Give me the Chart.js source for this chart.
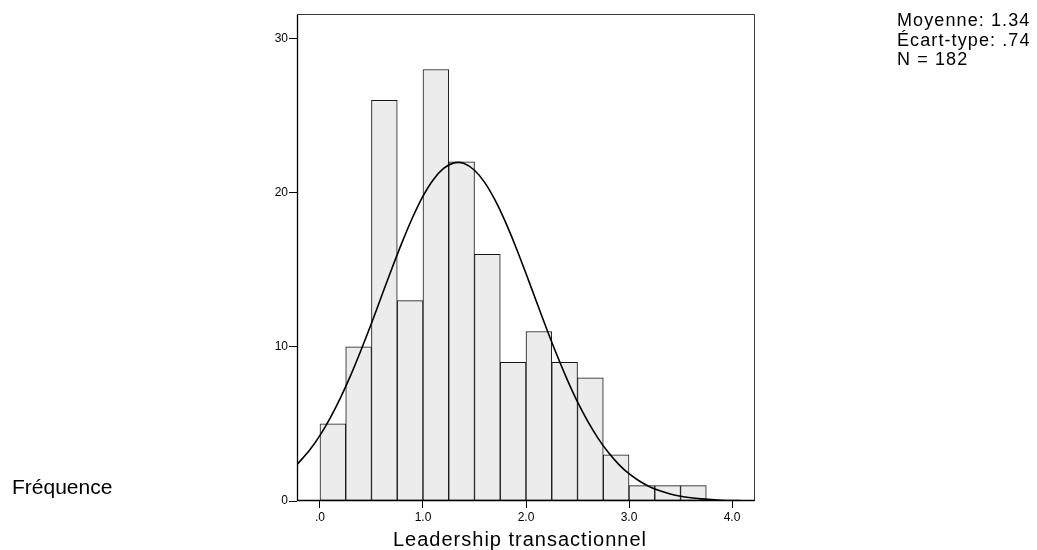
<!DOCTYPE html>
<html>
<head>
<meta charset="utf-8">
<script src="https://cdn.jsdelivr.net/npm/chart.js@4/dist/chart.umd.min.js"></script>
<style>
  html, body { margin: 0; padding: 0; background: #fff; }
  #wrap { position: relative; width: 1037px; height: 550px; overflow: hidden; }
  #c { position: absolute; left: 0; top: 0; }
  .txt { position: absolute; font-family: Arial, "Liberation Sans", sans-serif; color: #000; white-space: nowrap; }
  #stats { left: 897px; top: 11px; font-size: 18px; line-height: 19.7px; letter-spacing: 1.1px; }
  #ylab { left: 12px; top: 476px; font-size: 21px; line-height: 21px; }
</style>
</head>
<body>
<div id="wrap">
  <canvas id="c" width="1037" height="550"></canvas>
  <div class="txt" id="ylab">Fréquence</div>
  <div class="txt" id="stats">Moyenne: 1.34<br>Écart-type: .74<br>N = 182</div>
</div>
<script>
// ---- data ----
const binStarts = [0.00, 0.25, 0.50, 0.75, 1.00, 1.25, 1.50, 1.75, 2.00, 2.25, 2.50, 2.75, 3.00, 3.25, 3.50];
const binCounts = [5, 10, 26, 13, 28, 22, 16, 9, 11, 9, 8, 3, 1, 1, 1];
const binWidth = 0.25;

const curveX = [-0.23, -0.1, 0.0, 0.1, 0.2, 0.3, 0.4, 0.5, 0.6, 0.7, 0.8, 0.9, 1.0, 1.1, 1.2, 1.3, 1.4, 1.5,
                1.6, 1.7, 1.8, 1.9, 2.0, 2.1, 2.2, 2.3, 2.4, 2.5, 2.6, 2.7, 2.8, 2.9, 3.0, 3.1, 3.2, 3.3,
                3.4, 3.5, 3.6, 3.7, 3.8, 3.9, 4.0, 4.1, 4.23];
const curveY = [2.31, 3.31, 4.26, 5.40, 6.71, 8.18, 9.81, 11.53, 13.33, 15.12, 16.83, 18.41, 19.78, 20.85, 21.58, 21.94, 21.90, 21.46,
                20.66, 19.52, 18.11, 16.50, 14.76, 12.96, 11.18, 9.47, 7.88, 6.43, 5.16, 4.06, 3.14, 2.38, 1.77, 1.30, 0.93, 0.66,
                0.46, 0.31, 0.21, 0.14, 0.09, 0.05, 0.03, 0.02, 0.01];

const xTickValues = [0, 1, 2, 3, 4];
const xTickLabels = ['.0', '1.0', '2.0', '3.0', '4.0'];
const yTickValues = [0, 10, 20, 30];
const yTickLabels = ['0', '10', '20', '30'];

const xTitle = 'Leadership transactionnel';
const xMin = -0.223, xMax = 4.223, yMin = 0, yMax = 31.6;

// ---- build chart ----
const barData = binStarts.map((s, i) => ({ x: s + binWidth / 2, y: binCounts[i] }));
const lineData = curveX.map((x, i) => ({ x: x, y: curveY[i] }));

Chart.defaults.font.family = 'Arial, "Liberation Sans", sans-serif';
Chart.defaults.color = '#000';

const boxPlugin = {
  id: 'boxPlugin',
  beforeDraw(chart) {
    const s = chart.scales.x;
    if (s && !s._tweaked) {
      const orig = s.drawTitle;
      s.drawTitle = function () {
        const c = this.ctx;
        c.save();
        c.letterSpacing = '1px';
        c.translate(-6, 0);
        orig.call(this);
        c.restore();
      };
      s._tweaked = true;
    }
  },
  afterDraw(chart) {
    const { ctx, chartArea: a } = chart;
    const l = Math.round(a.left) + 0.5, r = Math.round(a.right) - 0.5;
    const t = Math.round(a.top) + 0.5, b = Math.round(a.bottom) - 0.5;
    ctx.save();
    ctx.lineWidth = 1;
    ctx.strokeStyle = '#3a3a3a';
    ctx.beginPath();
    ctx.moveTo(l, t); ctx.lineTo(r, t); ctx.lineTo(r, b);
    ctx.stroke();
    ctx.strokeStyle = '#000';
    ctx.lineWidth = 1.3;
    ctx.beginPath();
    ctx.moveTo(l, t); ctx.lineTo(l, b); ctx.lineTo(r, b);
    ctx.stroke();
    ctx.restore();
  }
};

new Chart(document.getElementById('c'), {
  type: 'bar',
  data: {
    datasets: [
      {
        type: 'line',
        data: lineData,
        borderColor: '#000',
        borderWidth: 1.6,
        pointRadius: 0,
        tension: 0.3,
        fill: false,
        order: 0
      },
      {
        type: 'bar',
        data: barData,
        backgroundColor: '#ececec',
        borderColor: '#151515',
        borderWidth: 1,
        borderSkipped: false,
        barPercentage: 1,
        categoryPercentage: 1,
        order: 1
      }
    ]
  },
  options: {
    responsive: false,
    animation: false,
    events: [],
    layout: { padding: { top: 14, right: 282, left: 0, bottom: 0 } },
    plugins: { legend: { display: false }, tooltip: { enabled: false }, title: { display: false } },
    scales: {
      x: {
        type: 'linear',
        min: xMin,
        max: xMax,
        offset: false,
        afterBuildTicks: (s) => { s.ticks = xTickValues.map(v => ({ value: v })); },
        afterFit: (s) => { s.height = 49; },
        ticks: {
          autoSkip: false,
          maxRotation: 0,
          padding: 2,
          font: { size: 12 },
          color: '#000',
          callback: (v) => { const i = xTickValues.indexOf(v); return i >= 0 ? xTickLabels[i] : ''; }
        },
        grid: { display: true, offset: false, drawOnChartArea: false, drawTicks: true, tickLength: 7, color: '#000', lineWidth: 1 },
        border: { display: false },
        title: { display: true, text: xTitle, font: { size: 20, lineHeight: 1 }, padding: { top: 0, bottom: 0 }, color: '#000' }
      },
      y: {
        min: yMin,
        max: yMax,
        afterBuildTicks: (s) => { s.ticks = yTickValues.map(v => ({ value: v })); },
        afterFit: (s) => { s.width = 297; },
        ticks: {
          padding: 1,
          font: { size: 12 },
          color: '#000',
          callback: (v) => { const i = yTickValues.indexOf(v); return i >= 0 ? yTickLabels[i] : ''; }
        },
        grid: { display: true, offset: false, drawOnChartArea: false, drawTicks: true, tickLength: 8, color: '#000', lineWidth: 1 },
        border: { display: false }
      }
    }
  },
  plugins: [boxPlugin]
});
</script>
</body>
</html>
